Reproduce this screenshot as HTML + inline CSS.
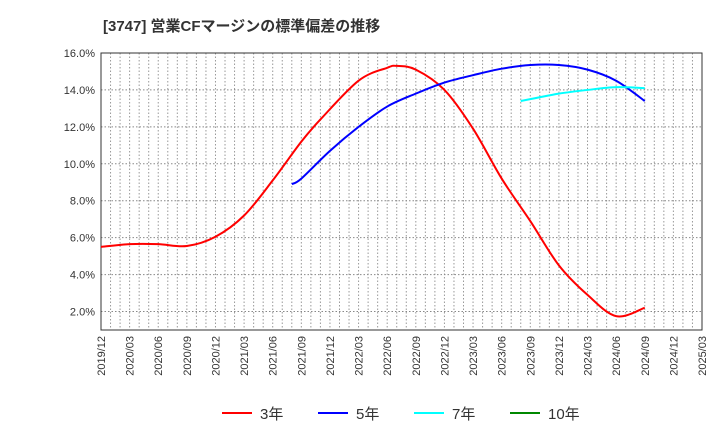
<!DOCTYPE html>
<html><head><meta charset="utf-8"><style>
body{margin:0;background:#fff;font-family:"Liberation Sans","Noto Sans CJK JP",sans-serif;}
</style></head><body>
<svg id="c" width="720" height="440" xmlns="http://www.w3.org/2000/svg">
<text x="103" y="31" font-size="15" font-weight="bold" fill="#333" font-family="Liberation Sans, Noto Sans CJK JP, sans-serif">[3747]  営業CFマージンの標準偏差の推移</text>
<g id="grid"></g><g id="axes"></g><g id="series"></g><g id="legend"></g>
</svg>
<script>
const xLabels=["2019/12","2020/03","2020/06","2020/09","2020/12","2021/03","2021/06","2021/09","2021/12","2022/03","2022/06","2022/09","2022/12","2023/03","2023/06","2023/09","2023/12","2024/03","2024/06","2024/09","2024/12","2025/03"];
const yTicks=[2,4,6,8,10,12,14,16];
// values in %, indexed by month offset from 2019/12
const red3Months=[0,3,6,9,12,15,18,21,23,27,30,31,33,36,39,42,45,48,51,54,57];
const red3=[5.5,5.65,5.65,5.55,6.05,7.2,9.1,11.2,12.4,14.5,15.2,15.3,15.1,14.0,11.9,9.2,6.9,4.5,2.9,1.75,2.2];
const blue5Months=[20,21,24,27,30,33,36,39,42,45,48,51,54,57];
const blue5=[8.9,9.2,10.7,12.0,13.1,13.8,14.4,14.8,15.15,15.35,15.35,15.1,14.5,13.4];
const cyan7Months=[44,45,48,51,54,57];
const cyan7=[13.4,13.5,13.8,14.0,14.15,14.1];
const L=101,R=702,T=53,B=330,YMIN=1,YMAX=16,NM=63;
const X=m=>L+m*(R-L)/NM, Y=v=>B-(v-YMIN)*(B-T)/(YMAX-YMIN);
const NS="http://www.w3.org/2000/svg";
function mk(p,tag,a){const e=document.createElementNS(NS,tag);for(const k in a)e.setAttribute(k,a[k]);p.appendChild(e);return e;}
const g=document.getElementById('grid'),ax=document.getElementById('axes'),s=document.getElementById('series'),lg=document.getElementById('legend');
for(let m=1;m<NM;m++){const l=mk(g,'line',{x1:X(m),x2:X(m),y1:T,y2:B,stroke:'#999','stroke-dasharray':'1.5,2','stroke-width':1});

}
yTicks.forEach(v=>{const l=mk(g,'line',{x1:L,x2:R,y1:Y(v),y2:Y(v),stroke:'#888','stroke-dasharray':'1.5,2','stroke-width':1});


const t=mk(ax,'text',{x:L-6,y:Y(v)+4,'text-anchor':'end','font-size':11,fill:'#333'});t.textContent=v.toFixed(1)+'%';

});
const fr=mk(ax,'rect',{x:L,y:T,width:R-L,height:B-T,fill:'none',stroke:'#333','stroke-width':1});


xLabels.forEach((lab,i)=>{const x=X(i*3);const t=mk(ax,'text',{transform:`translate(${x+4},${B+6}) rotate(-90)`,'text-anchor':'end','font-size':11,fill:'#333'});t.textContent=lab;

});
function path(ms,vs){const p=ms.map((m,i)=>[X(m),Y(vs[i])]);let d=`M${p[0][0]},${p[0][1]}`;
for(let i=0;i<p.length-1;i++){const p0=p[i-1]||p[i],p1=p[i],p2=p[i+1],p3=p[i+2]||p2;
d+=` C${p1[0]+(p2[0]-p0[0])/6},${p1[1]+(p2[1]-p0[1])/6} ${p2[0]-(p3[0]-p1[0])/6},${p2[1]-(p3[1]-p1[1])/6} ${p2[0]},${p2[1]}`;}return d;}
[[red3Months,red3,'#f00','series-3yr'],[blue5Months,blue5,'#00f','series-5yr'],[cyan7Months,cyan7,'#0ff','series-7yr']].forEach(([m,v,c,n])=>{
const e=mk(s,'path',{d:path(m,v),fill:'none',stroke:c,'stroke-width':2});

});
[['3年','#f00',222],['5年','#00f',318],['7年','#0ff',414],['10年','#080',510]].forEach(([t,c,x])=>{
const l=mk(lg,'line',{x1:x,x2:x+30,y1:413,y2:413,stroke:c,'stroke-width':2});


const tx=mk(lg,'text',{x:x+38,y:419,'font-size':15,fill:'#333'});tx.textContent=t;

});
</script>
</body></html>
